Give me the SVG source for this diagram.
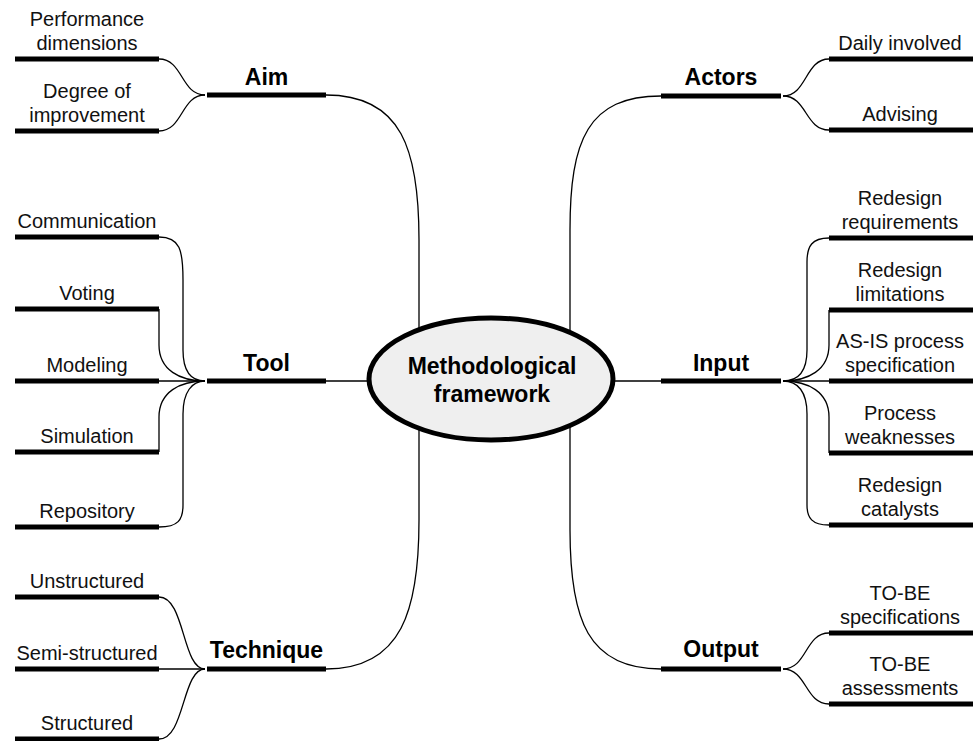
<svg xmlns="http://www.w3.org/2000/svg" width="973" height="741" viewBox="0 0 973 741">
<style>
.bar{stroke:#000;stroke-width:5;fill:none}
.con{stroke:#000;stroke-width:1.3;fill:none}
.lbl{font-family:"Liberation Sans",Arial,sans-serif;font-size:20px;fill:#111;text-anchor:middle}
.hd{font-family:"Liberation Sans",Arial,sans-serif;font-size:23px;font-weight:bold;fill:#000;text-anchor:middle}
</style>
<rect width="973" height="741" fill="#fff"/>
<g id="connectors">
<path class="con" d="M326,95 C 402,95 419,150 419,240 L419,379"/>
<path class="con" d="M326,669 C 402,669 419,610 419,520 L419,379"/>
<path class="con" d="M661,96 C 588,96 570,140 570,230 L570,379"/>
<path class="con" d="M661,669 C 588,669 570,620 570,530 L570,379"/>
<path class="con" d="M326,381 L419,381"/>
<path class="con" d="M570,381 L661,381"/>
<path class="con" d="M159,59 C 183,59 181,95 205,95"/>
<path class="con" d="M159,131 C 183,131 181,95 205,95"/>
<path class="con" d="M159,237 C 180,237 183,250 183,280 L183,350 C 183,372 192,381 205,381"/>
<path class="con" d="M159,309 L159,345 C 159,370 180,381 205,381"/>
<path class="con" d="M159,381 L205,381"/>
<path class="con" d="M205,381 C 180,381 159,392 159,417 L159,452"/>
<path class="con" d="M205,381 C 192,381 183,392 183,414 L183,505 C 183,520 178,527 159,527"/>
<path class="con" d="M159,597 C 185,597 182,669 205,669"/>
<path class="con" d="M159,669 L205,669"/>
<path class="con" d="M159,739 C 185,739 182,669 205,669"/>
<path class="con" d="M829,59 C 805,59 807,96 783,96"/>
<path class="con" d="M829,130 C 805,130 807,96 783,96"/>
<path class="con" d="M783,381 C 798,381 807,372 807,350 L807,262 C 807,246 812,238 829,238"/>
<path class="con" d="M829,310 L829,345 C 829,370 808,381 783,381"/>
<path class="con" d="M783,381 L829,381"/>
<path class="con" d="M783,381 C 808,381 829,392 829,417 L829,453"/>
<path class="con" d="M783,381 C 798,381 807,392 807,414 L807,505 C 807,518 812,525 829,525"/>
<path class="con" d="M829,633 C 805,633 807,669 783,669"/>
<path class="con" d="M829,704 C 805,704 807,669 783,669"/>
</g>
<g id="center">
<ellipse cx="491" cy="379" rx="122" ry="61" fill="#efefef" stroke="#000" stroke-width="5"/>
<text class="hd" x="492" y="374">Methodological</text>
<text class="hd" x="492" y="402">framework</text>
</g>
<g id="aim"><line class="bar" x1="207" y1="95" x2="326" y2="95"/><text class="hd" x="266.5" y="85">Aim</text></g>
<g id="tool"><line class="bar" x1="207" y1="381" x2="326" y2="381"/><text class="hd" x="266.5" y="371">Tool</text></g>
<g id="technique"><line class="bar" x1="207" y1="669" x2="326" y2="669"/><text class="hd" x="266.5" y="658">Technique</text></g>
<g id="actors"><line class="bar" x1="661" y1="96" x2="781" y2="96"/><text class="hd" x="721" y="85">Actors</text></g>
<g id="input"><line class="bar" x1="661" y1="381" x2="781" y2="381"/><text class="hd" x="721" y="371">Input</text></g>
<g id="output"><line class="bar" x1="661" y1="669" x2="781" y2="669"/><text class="hd" x="721" y="657">Output</text></g>
<g id="performance-dimensions"><line class="bar" x1="15" y1="59" x2="159" y2="59"/><text class="lbl" x="87" y="26">Performance</text><text class="lbl" x="87" y="50">dimensions</text></g>
<g id="degree-of-improvement"><line class="bar" x1="15" y1="131" x2="159" y2="131"/><text class="lbl" x="87" y="98">Degree of</text><text class="lbl" x="87" y="122">improvement</text></g>
<g id="communication"><line class="bar" x1="15" y1="237" x2="159" y2="237"/><text class="lbl" x="87" y="228">Communication</text></g>
<g id="voting"><line class="bar" x1="15" y1="309" x2="159" y2="309"/><text class="lbl" x="87" y="300">Voting</text></g>
<g id="modeling"><line class="bar" x1="15" y1="381" x2="159" y2="381"/><text class="lbl" x="87" y="372">Modeling</text></g>
<g id="simulation"><line class="bar" x1="15" y1="452" x2="159" y2="452"/><text class="lbl" x="87" y="443">Simulation</text></g>
<g id="repository"><line class="bar" x1="15" y1="527" x2="159" y2="527"/><text class="lbl" x="87" y="518">Repository</text></g>
<g id="unstructured"><line class="bar" x1="15" y1="597" x2="159" y2="597"/><text class="lbl" x="87" y="588">Unstructured</text></g>
<g id="semi-structured"><line class="bar" x1="15" y1="669" x2="159" y2="669"/><text class="lbl" x="87" y="660">Semi-structured</text></g>
<g id="structured"><line class="bar" x1="15" y1="739" x2="159" y2="739"/><text class="lbl" x="87" y="730">Structured</text></g>
<g id="daily-involved"><line class="bar" x1="829" y1="59" x2="973" y2="59"/><text class="lbl" x="900" y="50">Daily involved</text></g>
<g id="advising"><line class="bar" x1="829" y1="130" x2="973" y2="130"/><text class="lbl" x="900" y="121">Advising</text></g>
<g id="redesign-requirements"><line class="bar" x1="829" y1="238" x2="973" y2="238"/><text class="lbl" x="900" y="205">Redesign</text><text class="lbl" x="900" y="229">requirements</text></g>
<g id="redesign-limitations"><line class="bar" x1="829" y1="310" x2="973" y2="310"/><text class="lbl" x="900" y="277">Redesign</text><text class="lbl" x="900" y="301">limitations</text></g>
<g id="as-is-process-specification"><line class="bar" x1="829" y1="381" x2="973" y2="381"/><text class="lbl" x="900" y="348">AS-IS process</text><text class="lbl" x="900" y="372">specification</text></g>
<g id="process-weaknesses"><line class="bar" x1="829" y1="453" x2="973" y2="453"/><text class="lbl" x="900" y="420">Process</text><text class="lbl" x="900" y="444">weaknesses</text></g>
<g id="redesign-catalysts"><line class="bar" x1="829" y1="525" x2="973" y2="525"/><text class="lbl" x="900" y="492">Redesign</text><text class="lbl" x="900" y="516">catalysts</text></g>
<g id="to-be-specifications"><line class="bar" x1="829" y1="633" x2="973" y2="633"/><text class="lbl" x="900" y="600">TO-BE</text><text class="lbl" x="900" y="624">specifications</text></g>
<g id="to-be-assessments"><line class="bar" x1="829" y1="704" x2="973" y2="704"/><text class="lbl" x="900" y="671">TO-BE</text><text class="lbl" x="900" y="695">assessments</text></g>
</svg>
